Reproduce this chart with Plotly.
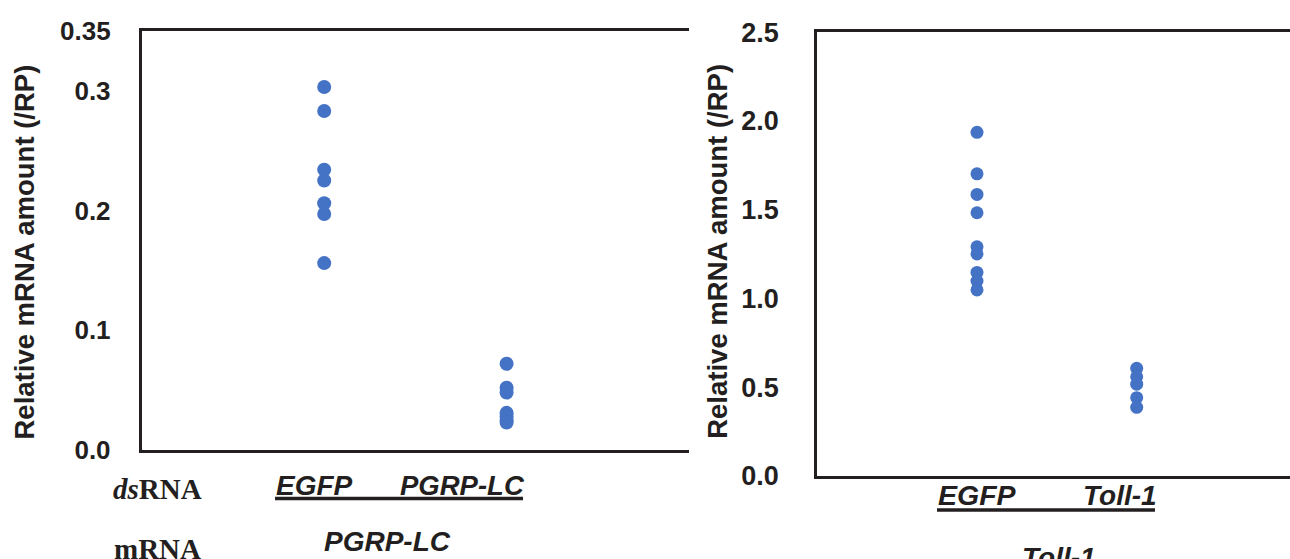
import plotly.graph_objects as go

# ---- data ----
left_groups = ["EGFP", "PGRP-LC"]            # dsRNA, left panel (mRNA: PGRP-LC)
left_egfp = [0.303, 0.283, 0.234, 0.225, 0.206, 0.197, 0.156]
left_pgrp = [0.072, 0.052, 0.048, 0.031, 0.028, 0.025, 0.023]

right_groups = ["EGFP", "Toll-1"]            # dsRNA, right panel (mRNA: Toll-1)
right_egfp = [1.936, 1.702, 1.586, 1.483, 1.291, 1.251, 1.147, 1.098, 1.048]
right_toll = [0.607, 0.559, 0.517, 0.441, 0.387]

left_ticks = [0.0, 0.1, 0.2, 0.3, 0.35]
left_ticktext = ["0.0", "0.1", "0.2", "0.3", "0.35"]
right_ticks = [0.0, 0.5, 1.0, 1.5, 2.0, 2.5]
right_ticktext = ["0.0", "0.5", "1.0", "1.5", "2.0", "2.5"]

ytitle = "Relative mRNA amount (/RP)"

W, H = 1290, 559
BLUE = "#4472C4"
INK = "#231F20"
SANS = "Liberation Sans, Arial, sans-serif"
SERIF = "Liberation Serif, Times New Roman, serif"


def fx(px):
    return px / W


def fy(py):
    return 1 - py / H


fig = go.Figure()

for gi, vals in enumerate([left_egfp, left_pgrp]):
    fig.add_trace(go.Scatter(x=[gi + 1] * len(vals), y=vals, mode="markers",
                             marker=dict(color=BLUE, size=14, line=dict(width=0)),
                             xaxis="x", yaxis="y", showlegend=False))
for gi, vals in enumerate([right_egfp, right_toll]):
    fig.add_trace(go.Scatter(x=[gi + 1] * len(vals), y=vals, mode="markers",
                             marker=dict(color=BLUE, size=13, line=dict(width=0)),
                             xaxis="x2", yaxis="y2", showlegend=False))

axis_common = dict(showgrid=False, zeroline=False, linecolor=INK, linewidth=3,
                   showline=True, ticks="", automargin=False)

fig.update_layout(
    width=W, height=H,
    margin=dict(l=0, r=0, t=0, b=0, pad=0, autoexpand=False),
    paper_bgcolor="white", plot_bgcolor="white",
    xaxis=dict(domain=[fx(141.8), fx(689)], range=[0, 3], showticklabels=False,
               mirror=True, anchor="y", **axis_common),
    yaxis=dict(domain=[fy(450), fy(30.7)], range=[0, 0.35], tickvals=left_ticks,
               ticktext=left_ticktext, mirror=False, anchor="x",
               ticklabelstandoff=23,
               tickfont=dict(family=SANS, size=26, color=INK, weight="bold"),
               **axis_common),
    xaxis2=dict(domain=[fx(817.3), 1.0], range=[0, (W - 817.3) / 159.7],
                showticklabels=False, mirror=True, anchor="y2", **axis_common),
    yaxis2=dict(domain=[fy(476), fy(32.2)], range=[0, 2.5], tickvals=right_ticks,
                ticktext=right_ticktext, mirror=False, anchor="x2",
                ticklabelstandoff=30,
                tickfont=dict(family=SANS, size=27, color=INK, weight="bold"),
                **axis_common),
)

ann = []


def add_text(text, x, y, size, family=SANS, italic=False, angle=0):
    ann.append(dict(text=text, x=fx(x), y=fy(y), xref="paper", yref="paper",
                    xanchor="center", yanchor="middle", showarrow=False,
                    textangle=angle,
                    font=dict(family=family, size=size, color=INK, weight="bold",
                              style="italic" if italic else "normal")))


add_text(ytitle, 24.7, 251.8, 27.5, angle=-90)
add_text(ytitle, 717.8, 251.0, 27.5, angle=-90)

# left panel bottom labels
add_text("<i>ds</i>RNA", 157, 489, 29, family=SERIF)
add_text("mRNA", 157, 549, 29, family=SERIF)
add_text(left_groups[0], 314, 485, 28, italic=True)
add_text(left_groups[1], 462.5, 485, 27.5, italic=True)
add_text("PGRP-LC", 387.5, 541, 28, italic=True)

# right panel bottom labels
add_text(right_groups[0], 977, 495, 28.5, italic=True)
add_text(right_groups[1], 1119.6, 495, 28, italic=True)
add_text("Toll-1", 1059.3, 557, 28, italic=True)

fig.update_layout(annotations=ann)

shapes = [
    dict(type="line", xref="paper", yref="paper", x0=fx(275), x1=fx(523),
         y0=fy(498.5), y1=fy(498.5), line=dict(color=INK, width=3.5)),
    dict(type="line", xref="paper", yref="paper", x0=fx(937), x1=fx(1155),
         y0=fy(510), y1=fy(510), line=dict(color=INK, width=3.5)),
]
fig.update_layout(shapes=shapes)

fig.write_html(
    "out.html",
    config={"displayModeBar": False},
    post_script="document.body.style.margin='0';document.body.style.overflow='hidden';",
)
